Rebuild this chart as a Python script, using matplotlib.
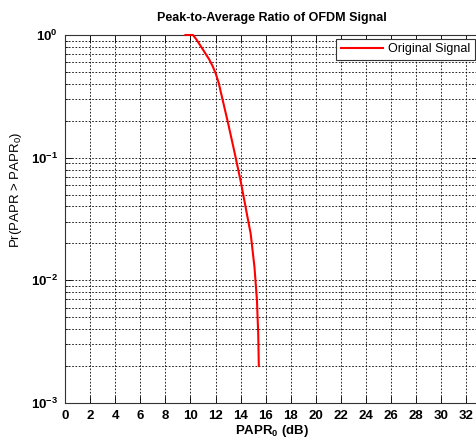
import matplotlib
matplotlib.use("Agg")
import matplotlib.pyplot as plt
from matplotlib.ticker import FixedLocator, FixedFormatter, LogLocator, NullFormatter

# CCDF of PAPR
papr_db = [9.6, 10.2, 10.5, 11.0, 11.5, 11.75, 12.0, 12.25, 12.5, 13.0, 13.5,
           14.0, 14.5, 14.8, 15.1, 15.3, 15.4, 15.45]
ccdf = [1.0, 1.0, 0.912, 0.759, 0.631, 0.562, 0.490, 0.407, 0.316, 0.191,
        0.112, 0.0646, 0.0347, 0.024, 0.0129, 0.0069, 0.0037, 0.002]

x_ticks = list(range(0, 33, 2))
y_ticks = [1e-3, 1e-2, 1e-1, 1e0]
y_tick_labels = [r"$\mathregular{10^{-3}}$", r"$\mathregular{10^{-2}}$",
                 r"$\mathregular{10^{-1}}$", r"$\mathregular{10^{0}}$"]

plt.rcParams["font.family"] = ["Liberation Sans", "DejaVu Sans"]

W, H = 477, 448
fig = plt.figure(figsize=(W / 100, H / 100), dpi=100)
# axes runs slightly past the right edge, like the cropped original
ax = fig.add_axes([65 / W, 45 / H, 414 / W, 368 / H])

ax.plot(papr_db, ccdf, color="red", linewidth=1.5, label="Original Signal",
        clip_on=False, zorder=5)

ax.set_yscale("log")
ax.set_xlim(0, 33)
ax.set_ylim(1e-3, 1)

ax.xaxis.set_major_locator(FixedLocator(x_ticks))
ax.yaxis.set_major_locator(FixedLocator(y_ticks))
ax.yaxis.set_major_formatter(FixedFormatter(y_tick_labels))
ax.yaxis.set_minor_locator(LogLocator(base=10, subs=range(2, 10)))
ax.yaxis.set_minor_formatter(NullFormatter())

ax.grid(True, which="major", color="black", linestyle=(0, (2, 2)), linewidth=0.6)
ax.grid(True, which="minor", axis="y", color="black", linestyle=(0, (2, 2)), linewidth=0.6)

ax.tick_params(which="both", direction="in", top=True, right=True)
ax.tick_params(which="major", length=5, width=0.6, labelsize=9.5)
ax.tick_params(axis="x", which="major", pad=5)
ax.tick_params(axis="y", which="major", pad=5)
ax.tick_params(which="minor", length=2.5, width=0.5)
for lbl in ax.get_xticklabels() + ax.get_yticklabels():
    lbl.set_fontweight("bold")
for sp in ax.spines.values():
    sp.set_linewidth(0.8)
    sp.set_color("#333333")

ax.set_title("Peak-to-Average Ratio of OFDM Signal", fontsize=9,
             fontweight="bold", pad=10)
ax.set_xlabel(r"PAPR$_\mathregular{0}$ (dB)", fontsize=9.5, fontweight="bold",
              labelpad=1)
ax.set_ylabel(r"Pr(PAPR > PAPR$_\mathregular{0}$)", fontsize=9.5)
ax.yaxis.set_label_coords(-0.100, 0.58)

leg = ax.legend(loc="upper right", bbox_to_anchor=(475 / W, 1 - 39 / H),
                bbox_transform=fig.transFigure, borderaxespad=0,
                fancybox=False, framealpha=1, fontsize=9, handlelength=3.4,
                borderpad=0.35, handletextpad=0.4)
leg.get_frame().set_edgecolor("#333333")
leg.get_frame().set_linewidth(0.8)

fig.savefig("out.png", dpi=100)
